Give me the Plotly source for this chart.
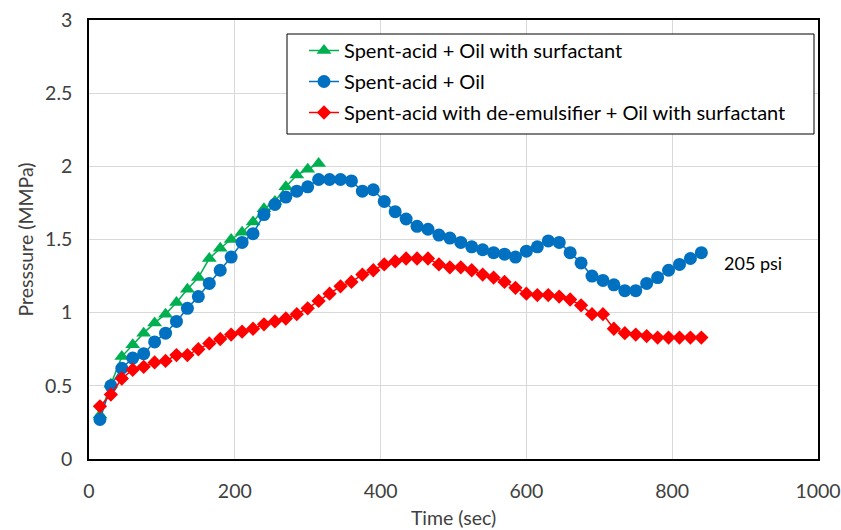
import plotly.graph_objects as go

time_green = [15, 30, 45, 60, 75, 90, 105, 120, 135, 150, 165, 180, 195, 210, 225, 240, 255, 270, 285, 300, 315]
p_green = [0.30, 0.51, 0.70, 0.78, 0.86, 0.93, 0.99, 1.07, 1.16, 1.24, 1.37, 1.44, 1.50, 1.55, 1.62, 1.71, 1.76, 1.86, 1.94, 1.98, 2.02]

time_full = [15 * i for i in range(1, 57)]
p_blue = [0.27, 0.50, 0.62, 0.69, 0.72, 0.80, 0.86, 0.94, 1.03, 1.11, 1.20, 1.29, 1.38, 1.48, 1.54,
          1.67, 1.74, 1.79, 1.83, 1.86, 1.91, 1.91, 1.91, 1.90, 1.83, 1.84, 1.76, 1.69, 1.64, 1.59,
          1.57, 1.53, 1.51, 1.48, 1.45, 1.43, 1.41, 1.40, 1.38, 1.42, 1.45, 1.49, 1.48, 1.41, 1.34,
          1.25, 1.22, 1.19, 1.15, 1.15, 1.20, 1.24, 1.29, 1.33, 1.37, 1.41]
p_red = [0.36, 0.44, 0.55, 0.61, 0.63, 0.66, 0.67, 0.71, 0.71, 0.75, 0.79, 0.82, 0.85, 0.87, 0.89,
         0.92, 0.94, 0.96, 0.99, 1.03, 1.08, 1.13, 1.18, 1.21, 1.26, 1.29, 1.33, 1.35, 1.37, 1.37,
         1.37, 1.33, 1.31, 1.31, 1.29, 1.26, 1.24, 1.21, 1.17, 1.13, 1.12, 1.12, 1.11, 1.09, 1.05,
         0.99, 0.99, 0.89, 0.86, 0.85, 0.84, 0.83, 0.83, 0.83, 0.83, 0.83]

names = ["Spent-acid + Oil with surfactant", "Spent-acid + Oil",
         "Spent-acid with de-emulsifier + Oil with surfactant"]
annotation_text = "205 psi"

FONT = "Lato"
FS = 19.5
W, H = 841, 530
ML, MR, MT, MB = 89, 23, 20, 71
PW, PH = W - ML - MR, H - MT - MB


def px_to_paper_x(px):
    return (px - ML) / PW


def px_to_paper_y(py):
    return (H - MB - py) / PH


fig = go.Figure()
fig.add_trace(go.Scatter(x=time_green, y=p_green, name=names[0], mode="lines+markers",
                         line=dict(color="#00B050", width=1.5),
                         marker=dict(symbol="triangle-up", size=13, color="#00B050"),
                         legendgroup="a"))
fig.add_trace(go.Scatter(x=time_full, y=p_blue, name=names[1], mode="lines+markers",
                         line=dict(color="#0070C0", width=1.5),
                         marker=dict(symbol="circle", size=13, color="#0070C0"),
                         legendgroup="b"))
fig.add_trace(go.Scatter(x=time_full, y=p_red, name=names[2], mode="lines+markers",
                         line=dict(color="#FF0000", width=1.5),
                         marker=dict(symbol="diamond", size=11, color="#FF0000"),
                         legendgroup="c"))

fig.add_annotation(x=868, y=1.34, text=annotation_text, showarrow=False, xanchor="left",
                   font=dict(family=FONT, size=18, color="#000000"))

# legend frame (white box with black border)
fig.add_shape(type="rect", xref="paper", yref="paper",
              x0=px_to_paper_x(287), x1=px_to_paper_x(814),
              y0=px_to_paper_y(134), y1=px_to_paper_y(34),
              line=dict(color="#000000", width=1), fillcolor="white", layer="above")

axis_common = dict(showline=True, linecolor="#000000", linewidth=1.5, mirror=True,
                   showgrid=True, gridcolor="#d9d9d9", gridwidth=1, zeroline=False,
                   automargin=False,
                   ticks="", tickfont=dict(family=FONT, size=FS, color="#404040"),
                   title_font=dict(family=FONT, size=FS, color="#404040"))
fig.update_xaxes(range=[0, 1000], dtick=200, title_text="Time (sec)", title_standoff=10,
                 ticklabelstandoff=14, **axis_common)
fig.update_yaxes(range=[0, 3], dtick=0.5, title_text="Presssure (MMPa)", title_standoff=6,
                 ticklabelstandoff=11, **axis_common)

fig.update_layout(
    width=W, height=H,
    margin=dict(l=ML, r=MR, t=MT, b=MB),
    paper_bgcolor="white", plot_bgcolor="white",
    font=dict(family=FONT, size=FS, color="#000000"),
    legend=dict(x=px_to_paper_x(304), y=px_to_paper_y(31), xanchor="left", yanchor="top",
                bgcolor="rgba(0,0,0,0)", borderwidth=0,
                tracegroupgap=2, font=dict(family=FONT, size=20, color="#000000")),
)

fig.write_html("out.html", config={"displayModeBar": False},
               post_script="document.body.style.margin='0';document.body.style.padding='0';")
